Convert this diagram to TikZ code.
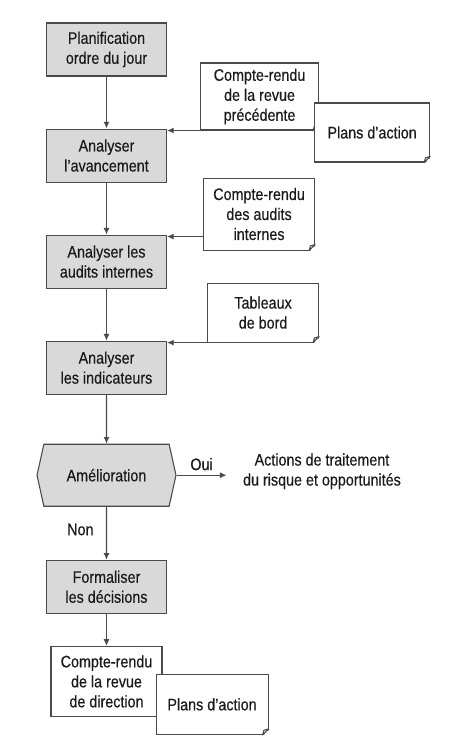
\documentclass[tikz,border=0pt]{standalone}
\usepackage{fontspec}
\setmainfont{Liberation Sans}[FakeStretch=0.86, FakeBold=0.4]
\usetikzlibrary{positioning, shapes.symbols, arrows.meta}
\definecolor{linegray}{HTML}{4A4A4A}
\definecolor{boxgray}{HTML}{D9D9D9}
\definecolor{inkgray}{HTML}{1A1A1A}
% folded corner of a document node
\newcommand{\dogear}[1]{%
  \fill[white] ([shift={(1pt,4.5pt)}]#1.south east) -- ([shift={(1pt,-1pt)}]#1.south east) -- ([shift={(-4.5pt,-1pt)}]#1.south east) -- cycle;
  \draw[line join=round] ([yshift=4.5pt]#1.south east) -- ([xshift=-4.5pt]#1.south east) -- ([shift={(-3.5pt,3.5pt)}]#1.south east) -- cycle;
}
\begin{document}
\begin{tikzpicture}[node distance={39pt}, line width=0.8pt, color=linegray, text=inkgray,
    font=\fontsize{12.5}{15}\selectfont, >={Latex[length=5pt,width=4.5pt]},
    proc/.style = {draw, fill=boxgray, minimum width=90pt, minimum height=39.75pt, align=center, inner sep=2pt},
    doc/.style = {draw, fill=white, minimum width=83.25pt, minimum height=44.25pt, align=center, inner sep=3pt},
    choice/.style = {draw, fill=boxgray, signal, signal to=west and east, signal pointer angle=155,
      minimum width=104.25pt, minimum height=46.5pt}]
  \useasboundingbox (-79.875pt,37.1pt) rectangle (259.125pt,-514.9pt);
  % main chain
  \node[proc] (plan) {Planification\\ordre du jour};
  \node[proc] (avanc) [below=of plan] {Analyser\\l’avancement};
  \node[proc] (audits) [below=of avanc] {Analyser les\\audits internes};
  \node[proc] (indic) [below=of audits] {Analyser\\les indicateurs};
  \node[choice] (amelio) [below=36.75pt of indic] {Amélioration};
  \node[proc] (formal) [below=39.75pt of amelio] {Formaliser\\les décisions};
  \node[doc, minimum height=52.5pt] (crdir) [below=24pt of formal] {Compte-rendu\\de la revue\\de direction};
  \dogear{crdir}
  \node[doc, minimum width=84pt, minimum height=45pt, anchor=north west] (plansB)
    at ([shift={(-5.25pt,-21pt)}]crdir.north east) {Plans d’action};
  \dogear{plansB}
  % inputs
  \node[doc, minimum width=88.5pt, minimum height=50.25pt, anchor=south west] (crprec)
    at ([shift={(24.75pt,-1.5pt)}]avanc.north east) {Compte-rendu\\de la revue\\précédente};
  \dogear{crprec}
  \node[doc, minimum width=86.25pt, anchor=north west] (plansA)
    at ([shift={(-3.75pt,-30pt)}]crprec.north east) {Plans d’action};
  \dogear{plansA}
  \node[doc, minimum height=54pt, anchor=south west] (craudit)
    at ([shift={(27pt,-12pt)}]audits.north east) {Compte-rendu\\des audits\\internes};
  \dogear{craudit}
  \node[doc, anchor=south west] (tabbord)
    at ([shift={(30pt,-1.5pt)}]indic.north east) {Tableaux\\de bord};
  \dogear{tabbord}
  \node[right=37.5pt of amelio.east, anchor=west, yshift=3pt, align=center, inner xsep=12pt] (risque)
    {Actions de traitement\\du risque et opportunités};
  % connectors
  \coordinate (inA) at ([yshift=-1.5pt]avanc.north east);
  \coordinate (inB) at ([yshift=-1.5pt]audits.north east);
  \coordinate (inC) at ([yshift=-1.5pt]indic.north east);
  \draw[->] (plan) -- (avanc);
  \draw[->] (avanc) -- (audits);
  \draw[->] (audits) -- (indic);
  \draw[->] (indic) -- (amelio);
  \draw[->] (amelio) -- node[left=6pt, pos=0.43] {Non} (formal);
  \draw[->] (formal) -- (crdir);
  \draw[<-] (inA) -- (inA -| crprec.west);
  \draw[<-] (inB) -- (inB -| craudit.west);
  \draw[<-] (inC) -- (inC -| tabbord.west);
  \draw[->] (amelio.east) -- node[above] {Oui} (amelio.east -| risque.west);
\end{tikzpicture}
\end{document}
